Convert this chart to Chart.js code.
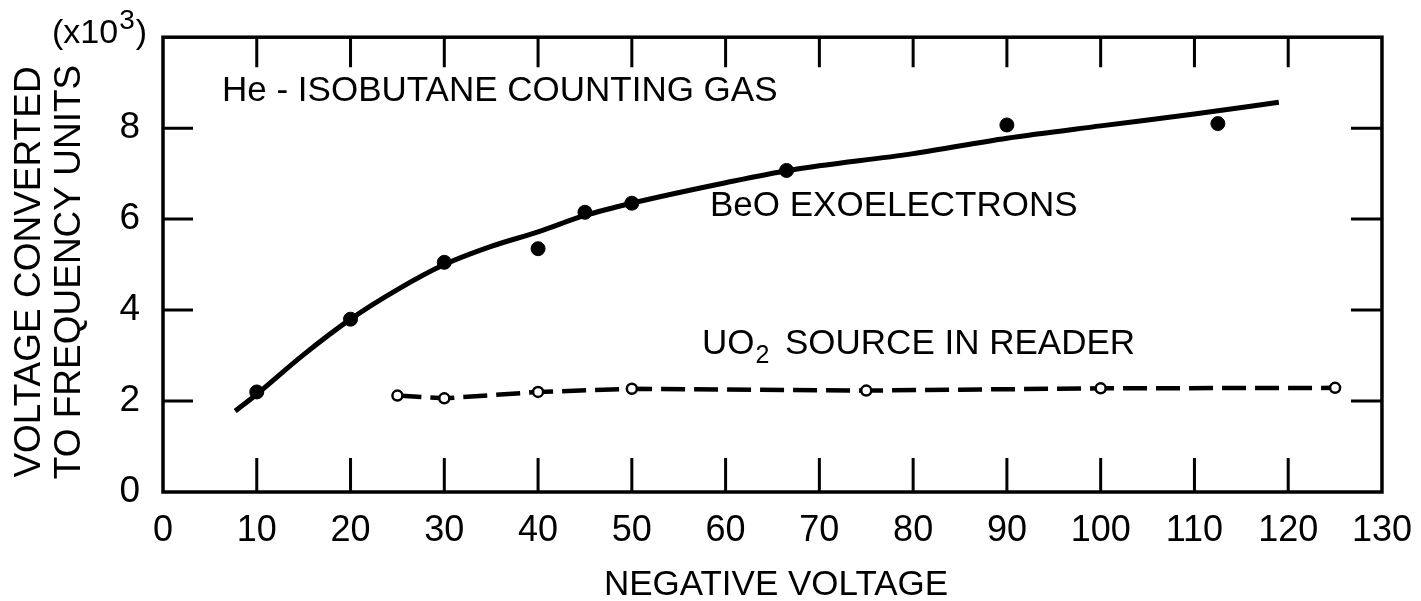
<!DOCTYPE html>
<html>
<head>
<meta charset="utf-8">
<script src="https://cdn.jsdelivr.net/npm/chart.js@4"></script>
<style>
  body { margin: 0; background: #fff; }
  #wrap { width: 1421px; height: 601px; }
</style>
</head>
<body>
<div id="wrap"><canvas id="chart"></canvas></div>
<script>
// values

// BeO exoelectrons, measured points (filled dots)
const beoX = [10, 20, 30, 40, 45, 50, 66.5, 90, 112.5];
const beoY = [2.2, 3.8, 5.05, 5.35, 6.15, 6.35, 7.07, 8.07, 8.1];

// hand drawn curve through the BeO points
const fitX = [7.7, 10, 15, 20, 25, 30, 35, 40, 45, 50, 60, 67, 80, 90, 100, 110, 119];
const fitY = [1.78, 2.15, 3.02, 3.8, 4.45, 5.0, 5.4, 5.72, 6.08, 6.35, 6.8, 7.08, 7.44, 7.78, 8.05, 8.31, 8.57];

// UO2 source in reader (open circles, dashed)
const uoX = [25, 30, 40, 50, 75, 100, 125];
const uoY = [2.12, 2.06, 2.2, 2.27, 2.23, 2.28, 2.29];

// axis ticks
const xTickValues = [10, 20, 30, 40, 50, 60, 70, 80, 90, 100, 110, 120];
const yTickValues = [2, 4, 6, 8];

const FONT = "'Liberation Sans', Arial, sans-serif";

function pts(xs, ys) {
  return xs.map((x, i) => ({ x: x, y: ys[i] }));
}

// frame, inward ticks and the labels written on the plot
const framePlugin = {
  id: "frame",
  afterDraw(chart) {
    const ctx = chart.ctx;
    const a = chart.chartArea;
    const xs = chart.scales.x;
    const ys = chart.scales.y;
    ctx.save();
    ctx.strokeStyle = "#000";
    ctx.lineWidth = 3.5;
    ctx.strokeRect(a.left, a.top, a.right - a.left, a.bottom - a.top);

    ctx.lineWidth = 3;
    ctx.beginPath();
    xTickValues.forEach((v) => {
      const px = xs.getPixelForValue(v);
      ctx.moveTo(px, a.bottom);
      ctx.lineTo(px, a.bottom - 34);
      ctx.moveTo(px, a.top);
      ctx.lineTo(px, a.top + 30);
    });
    yTickValues.forEach((v) => {
      const py = ys.getPixelForValue(v);
      ctx.moveTo(a.left, py);
      ctx.lineTo(a.left + 30, py);
      ctx.moveTo(a.right, py);
      ctx.lineTo(a.right - 31, py);
    });
    ctx.stroke();

    ctx.fillStyle = "#000";
    ctx.textBaseline = "alphabetic";
    ctx.textAlign = "left";

    // (x10^3)
    ctx.font = "34px " + FONT;
    ctx.fillText("(x10", 52, 43);
    let w = ctx.measureText("(x10").width;
    ctx.font = "28px " + FONT;
    ctx.fillText("3", 52 + w + 1, 29);
    let w3 = ctx.measureText("3").width;
    ctx.font = "34px " + FONT;
    ctx.fillText(")", 52 + w + w3 + 2, 43);

    ctx.font = "35px " + FONT;
    ctx.fillText("He - ISOBUTANE COUNTING GAS", 222, 101);
    ctx.fillText("BeO EXOELECTRONS", 710, 216);

    // UO2 with subscript
    ctx.fillText("UO", 702, 354);
    w = ctx.measureText("UO").width;
    ctx.font = "25px " + FONT;
    ctx.fillText("2", 702 + w + 1, 363);
    ctx.font = "35px " + FONT;
    ctx.fillText("SOURCE IN READER", 785, 354);

    // axis titles
    ctx.font = "35px " + FONT;
    ctx.textAlign = "center";
    ctx.fillText("NEGATIVE VOLTAGE", 776, 595);

    ctx.save();
    ctx.translate(40, 272);
    ctx.rotate(-Math.PI / 2);
    ctx.font = "37px " + FONT;
    ctx.fillText("VOLTAGE CONVERTED", 0, 0);
    ctx.fillText("TO FREQUENCY UNITS", 0, 40);
    ctx.restore();
    ctx.restore();
  },
};

new Chart(document.getElementById("chart").getContext("2d"), {
  type: "scatter",
  data: {
    datasets: [
      {
        label: "BeO EXOELECTRONS curve",
        data: pts(fitX, fitY),
        showLine: true,
        borderColor: "#000",
        borderWidth: 5,
        pointRadius: 0,
        tension: 0.4,
        cubicInterpolationMode: "monotone",
      },
      {
        label: "BeO EXOELECTRONS",
        data: pts(beoX, beoY),
        showLine: false,
        backgroundColor: "#000",
        borderColor: "#000",
        pointRadius: 7,
      },
      {
        label: "UO2 SOURCE IN READER",
        data: pts(uoX, uoY),
        showLine: true,
        borderColor: "#000",
        borderWidth: 4.5,
        borderDash: [24, 9],
        pointRadius: 5,
        pointBorderWidth: 2.5,
        pointBackgroundColor: "#fff",
        pointBorderColor: "#000",
      },
    ],
  },
  options: {
    responsive: true,
    maintainAspectRatio: false,
    animation: false,
    layout: {
      padding: { top: 15, right: 39, left: 0, bottom: 0 },
    },
    plugins: {
      legend: { display: false },
      tooltip: { enabled: false },
    },
    scales: {
      x: {
        type: "linear",
        min: 0,
        max: 130,
        grid: { display: false },
        border: { display: false },
        afterFit: (scale) => {
          scale.height = 109;
        },
        ticks: {
          stepSize: 10,
          autoSkip: false,
          maxRotation: 0,
          padding: 9,
          color: "#000",
          font: { size: 36, family: FONT },
        },
      },
      y: {
        type: "linear",
        min: 0,
        max: 10,
        grid: { display: false },
        border: { display: false },
        afterFit: (scale) => {
          scale.width = 163;
        },
        ticks: {
          stepSize: 2,
          padding: 15,
          color: "#000",
          font: { size: 37, family: FONT },
          callback: (v) => (v === 10 ? "" : v),
        },
      },
    },
  },
  plugins: [framePlugin],
});
</script>
</body>
</html>
